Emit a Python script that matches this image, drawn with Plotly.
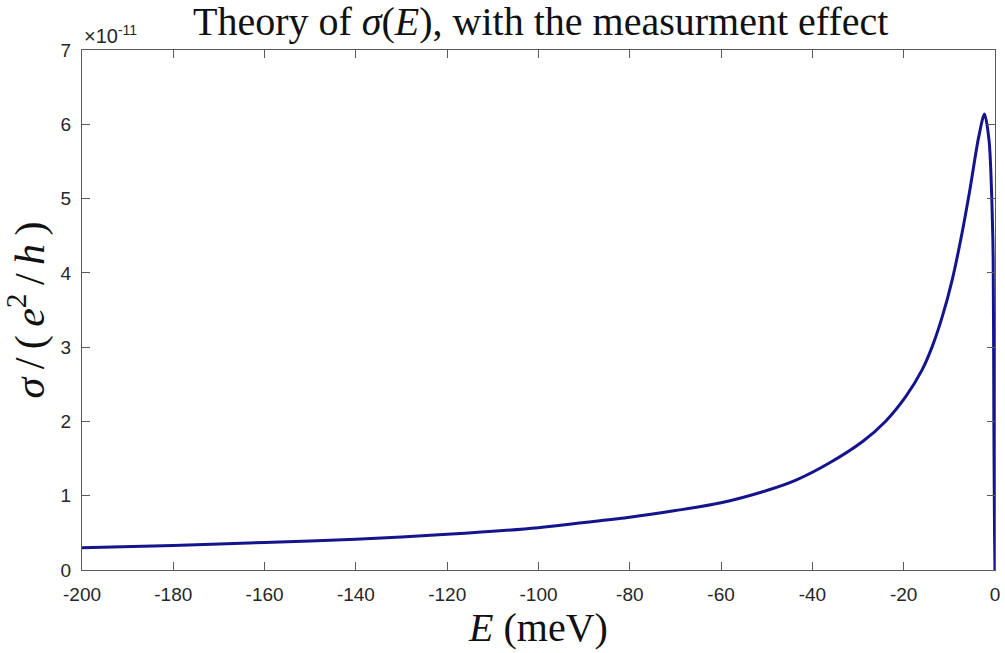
import plotly.graph_objects as go

# Energy (meV)
energy = [-200, -180, -160, -140, -120, -100, -90, -80, -70, -60, -50, -43.6,
          -36.3, -29, -24, -19.6, -16, -13.8, -11.6, -9.4, -7.4, -5.5, -3.6,
          -2.3, -1.3, -0.7, -0.4, -0.25, -0.1, 0]
# sigma in units of 1e-11 e^2/h
sigma = [0.30, 0.33, 0.37, 0.415, 0.48, 0.57, 0.64, 0.71, 0.80, 0.905, 1.07,
         1.21, 1.44, 1.73, 2.00, 2.33, 2.69, 3.00, 3.40, 3.90, 4.48, 5.12,
         5.82, 6.14, 5.78, 5.00, 4.20, 2.00, 0.50, 0.0]

x_ticks = list(range(-200, 1, 20))
y_ticks = list(range(0, 8))

axis_col = "#5a5a5a"
tick_font = dict(family="Liberation Sans, Arial", size=19, color="#262626")
serif = "Liberation Serif, Times New Roman, serif"
thin = "\u2009"

fig = go.Figure()
fig.add_trace(go.Scatter(x=energy, y=sigma, mode="lines",
                         line=dict(color="#14148c", width=3, shape="spline", smoothing=0.8),
                         hoverinfo="skip"))

fig.update_layout(
    width=1005, height=653,
    margin=dict(l=82, r=5, t=50, b=83),
    plot_bgcolor="white", paper_bgcolor="white",
    showlegend=False,
    title=dict(text="Theory of <i>σ</i>(<i>E</i>), with the measurment effect",
               x=0.538, xanchor="center", y=0.968, yanchor="middle",
               font=dict(family=serif, size=40, color="#111111")),
    xaxis=dict(range=[-200, 0], tickvals=x_ticks, ticktext=[str(v) for v in x_ticks],
               showgrid=False, zeroline=False, showline=True, linecolor=axis_col, linewidth=1,
               mirror="ticks", ticks="inside", ticklen=8, tickcolor=axis_col,
               tickfont=tick_font, ticklabelstandoff=7, ticklabeloverflow="allow",
               title=dict(text="<i>E</i> (meV)", standoff=6,
                          font=dict(family=serif, size=40, color="#111111"))),
    yaxis=dict(range=[0, 7], tickvals=y_ticks, ticktext=[str(v) for v in y_ticks],
               showgrid=False, zeroline=False, showline=True, linecolor=axis_col, linewidth=1,
               mirror="ticks", ticks="inside", ticklen=8, tickcolor=axis_col,
               tickfont=tick_font, ticklabelstandoff=6,
               title=dict(text=f"<i>σ</i>{thin}/{thin}({thin}<i>e</i><sup>2</sup>{thin}/{thin}<i>h</i>{thin})",
                          standoff=8,
                          font=dict(family=serif, size=42, color="#111111"))),
)

fig.add_annotation(text="×10<sup>-11</sup>", xref="paper", yref="paper", x=0, y=1,
                   xanchor="left", yanchor="bottom", showarrow=False, yshift=1,
                   font=dict(family="Liberation Sans, Arial", size=20, color="#262626"))

fig.write_html("out.html")
